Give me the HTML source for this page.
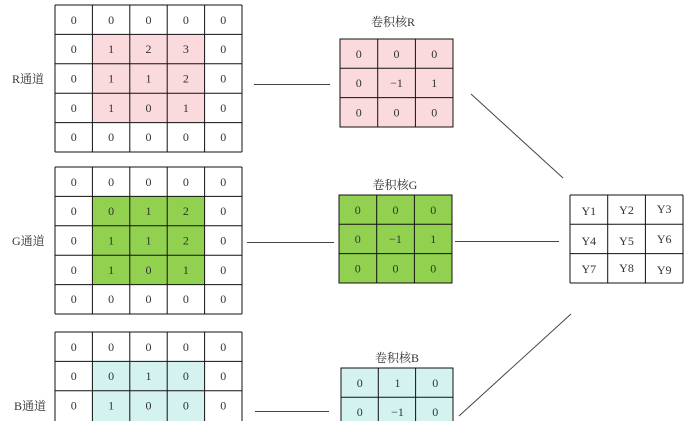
<!DOCTYPE html>
<html><head><meta charset="utf-8"><style>
html,body{margin:0;padding:0;background:#fff;width:691px;height:421px;overflow:hidden}
svg text{font-family:"Liberation Serif","Noto Serif CJK SC",serif;font-size:12px;fill:#333;text-anchor:middle}
.lb{font-family:"Liberation Serif","Noto Serif CJK SC",serif;font-size:12px;fill:#333}
</style></head><body>
<svg width="691" height="421" xmlns="http://www.w3.org/2000/svg">
<!-- R grid -->
<rect x="92.4" y="34.4" width="112.2" height="88.2" fill="#fadadd"/>
<g stroke="#111" stroke-width="1" fill="none">
<path d="M55 5V152M92.4 5V152M129.8 5V152M167.2 5V152M204.6 5V152M242 5V152M55 5H242M55 34.4H242M55 63.8H242M55 93.2H242M55 122.6H242M55 152H242"/>
</g>
<text x="73.7" y="24">0</text><text x="111.1" y="24">0</text><text x="148.5" y="24">0</text><text x="185.9" y="24">0</text><text x="223.3" y="24">0</text>
<text x="73.7" y="53">0</text><text x="111.1" y="53">1</text><text x="148.5" y="53">2</text><text x="185.9" y="53">3</text><text x="223.3" y="53">0</text>
<text x="73.7" y="82.5">0</text><text x="111.1" y="82.5">1</text><text x="148.5" y="82.5">1</text><text x="185.9" y="82.5">2</text><text x="223.3" y="82.5">0</text>
<text x="73.7" y="112">0</text><text x="111.1" y="112">1</text><text x="148.5" y="112">0</text><text x="185.9" y="112">1</text><text x="223.3" y="112">0</text>
<text x="73.7" y="141">0</text><text x="111.1" y="141">0</text><text x="148.5" y="141">0</text><text x="185.9" y="141">0</text><text x="223.3" y="141">0</text>
<text class="lb" x="12" y="83" style="text-anchor:start">R通道</text>

<!-- G grid -->
<rect x="92.4" y="196.4" width="112.2" height="88.2" fill="#92d050"/>
<g stroke="#111" stroke-width="1" fill="none">
<path d="M55 167V314M92.4 167V314M129.8 167V314M167.2 167V314M204.6 167V314M242 167V314M55 167H242M55 196.4H242M55 225.8H242M55 255.2H242M55 284.6H242M55 314H242"/>
</g>
<text x="73.7" y="186">0</text><text x="111.1" y="186">0</text><text x="148.5" y="186">0</text><text x="185.9" y="186">0</text><text x="223.3" y="186">0</text>
<text x="73.7" y="215">0</text><text x="111.1" y="215">0</text><text x="148.5" y="215">1</text><text x="185.9" y="215">2</text><text x="223.3" y="215">0</text>
<text x="73.7" y="244.5">0</text><text x="111.1" y="244.5">1</text><text x="148.5" y="244.5">1</text><text x="185.9" y="244.5">2</text><text x="223.3" y="244.5">0</text>
<text x="73.7" y="274">0</text><text x="111.1" y="274">1</text><text x="148.5" y="274">0</text><text x="185.9" y="274">1</text><text x="223.3" y="274">0</text>
<text x="73.7" y="303">0</text><text x="111.1" y="303">0</text><text x="148.5" y="303">0</text><text x="185.9" y="303">0</text><text x="223.3" y="303">0</text>
<text class="lb" x="12" y="245" style="text-anchor:start">G通道</text>

<!-- B grid -->
<rect x="92.4" y="361.4" width="112.2" height="70" fill="#d4f2ef"/>
<g stroke="#111" stroke-width="1" fill="none">
<path d="M55 332V421M92.4 332V421M129.8 332V421M167.2 332V421M204.6 332V421M242 332V421M55 332H242M55 361.4H242M55 390.8H242"/>
</g>
<text x="73.7" y="351">0</text><text x="111.1" y="351">0</text><text x="148.5" y="351">0</text><text x="185.9" y="351">0</text><text x="223.3" y="351">0</text>
<text x="73.7" y="380">0</text><text x="111.1" y="380">0</text><text x="148.5" y="380">1</text><text x="185.9" y="380">0</text><text x="223.3" y="380">0</text>
<text x="73.7" y="409.5">0</text><text x="111.1" y="409.5">1</text><text x="148.5" y="409.5">0</text><text x="185.9" y="409.5">0</text><text x="223.3" y="409.5">0</text>
<text class="lb" x="14" y="410" style="text-anchor:start">B通道</text>

<!-- connectors -->
<g stroke="#444" stroke-width="1">
<line x1="254" y1="84.5" x2="330" y2="84.5"/>
<line x1="247" y1="242.5" x2="334" y2="242.5"/>
<line x1="255" y1="411.5" x2="329" y2="411.5"/>
<line x1="471" y1="94" x2="563" y2="178"/>
<line x1="455" y1="241.5" x2="559" y2="241.5"/>
<line x1="459" y1="416" x2="571" y2="314"/>
</g>

<!-- R kernel -->
<text x="393" y="26">卷积核R</text>
<rect x="340" y="39" width="113" height="88" fill="#fadadd" stroke="#111"/>
<path d="M377.7 39V127M415.4 39V127M340 68.3H453M340 97.6H453" stroke="#111" fill="none"/>
<text x="358.8" y="58">0</text><text x="396.5" y="58">0</text><text x="434.2" y="58">0</text>
<text x="358.8" y="87">0</text><text x="396.5" y="87">−1</text><text x="434.2" y="87">1</text>
<text x="358.8" y="116.5">0</text><text x="396.5" y="116.5">0</text><text x="434.2" y="116.5">0</text>

<!-- G kernel -->
<text x="395" y="189">卷积核G</text>
<rect x="339" y="195" width="113" height="88" fill="#92d050" stroke="#111"/>
<path d="M376.7 195V283M414.4 195V283M339 224.3H452M339 253.6H452" stroke="#111" fill="none"/>
<text x="357.8" y="214">0</text><text x="395.5" y="214">0</text><text x="433.2" y="214">0</text>
<text x="357.8" y="243">0</text><text x="395.5" y="243">−1</text><text x="433.2" y="243">1</text>
<text x="357.8" y="272.5">0</text><text x="395.5" y="272.5">0</text><text x="433.2" y="272.5">0</text>

<!-- B kernel -->
<text x="397" y="362">卷积核B</text>
<rect x="341" y="368" width="112" height="70" fill="#d4f2ef" stroke="#111"/>
<path d="M378.3 368V421M415.6 368V421M341 397.3H453" stroke="#111" fill="none"/>
<text x="359.8" y="387">0</text><text x="397.5" y="387">1</text><text x="435.2" y="387">0</text>
<text x="359.8" y="416">0</text><text x="397.5" y="416">−1</text><text x="435.2" y="416">0</text>

<!-- Y grid -->
<path d="M570 195V283M607.7 195V283M645.4 195V283M683 195V283M570 195H683M570 224.3H683M570 253.6H683M570 283H683" stroke="#111" fill="none"/>
<text x="588.8" y="215">Y1</text><text x="626.5" y="214">Y2</text><text x="664.2" y="213">Y3</text>
<text x="588.8" y="245">Y4</text><text x="626.5" y="245">Y5</text><text x="664.2" y="243">Y6</text>
<text x="588.8" y="273">Y7</text><text x="626.5" y="272">Y8</text><text x="664.2" y="274">Y9</text>
</svg>
</body></html>
